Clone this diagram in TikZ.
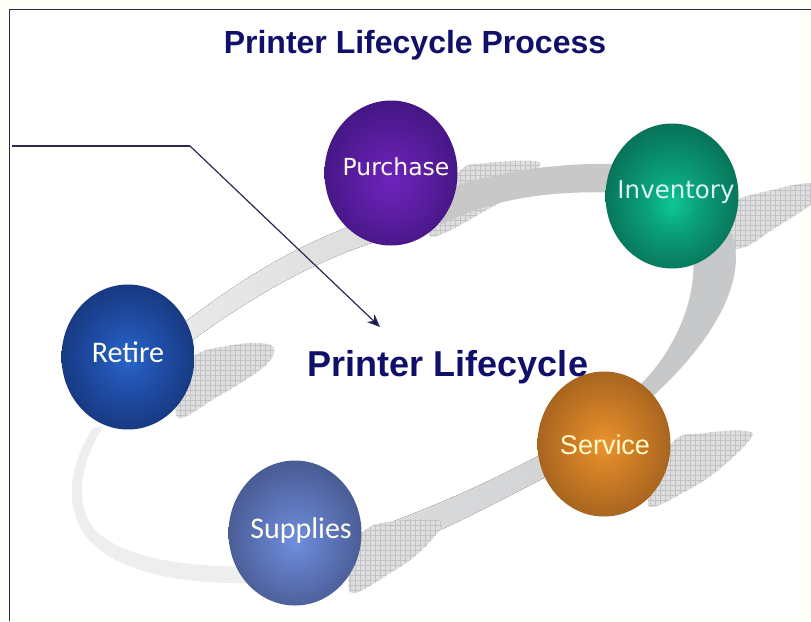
\documentclass[tikz,border=0pt]{standalone}
\usepackage{fontspec}
\setmainfont{Liberation Sans}
\newfontfamily\lato{Carlito}
\newfontfamily\deja{DejaVu Sans}
\usetikzlibrary{arrows.meta,shapes.geometric}
\definecolor{navy}{HTML}{10106A}
\definecolor{framec}{HTML}{2A2A50}
\definecolor{hatchbg}{HTML}{DEDEDE}
\definecolor{hatchln}{HTML}{C2C2C6}
\definecolor{bandA}{HTML}{EEEEEE}
\definecolor{bandB}{HTML}{DDDDDD}
\definecolor{bandC}{HTML}{C8C8C8}
\definecolor{bandD}{HTML}{C6C8CA}
\definecolor{bandE}{HTML}{D2D4D6}
\pgfdeclareradialshading{ballPurple}{\pgfpoint{0bp}{-3bp}}{color(0bp)=(rgb,1:red,0.42;green,0.14;blue,0.74);color(10bp)=(rgb,1:red,0.38;green,0.12;blue,0.66);color(26bp)=(rgb,1:red,0.27;green,0.09;blue,0.52);color(50bp)=(rgb,1:red,0.27;green,0.09;blue,0.52)}
\pgfdeclareradialshading{ballGreen}{\pgfpoint{0bp}{-3bp}}{color(0bp)=(rgb,1:red,0.05;green,0.78;blue,0.58);color(10bp)=(rgb,1:red,0.04;green,0.63;blue,0.47);color(26bp)=(rgb,1:red,0.03;green,0.45;blue,0.35);color(50bp)=(rgb,1:red,0.03;green,0.45;blue,0.35)}
\pgfdeclareradialshading{ballBlue}{\pgfpoint{0bp}{0bp}}{color(0bp)=(rgb,1:red,0.16;green,0.40;blue,0.80);color(10bp)=(rgb,1:red,0.13;green,0.32;blue,0.68);color(26bp)=(rgb,1:red,0.09;green,0.22;blue,0.50);color(50bp)=(rgb,1:red,0.09;green,0.22;blue,0.50)}
\pgfdeclareradialshading{ballSteel}{\pgfpoint{0bp}{-3bp}}{color(0bp)=(rgb,1:red,0.43;green,0.56;blue,0.88);color(10bp)=(rgb,1:red,0.38;green,0.48;blue,0.76);color(26bp)=(rgb,1:red,0.29;green,0.36;blue,0.58);color(50bp)=(rgb,1:red,0.29;green,0.36;blue,0.58)}
\pgfdeclareradialshading{ballOrange}{\pgfpoint{0bp}{0bp}}{color(0bp)=(rgb,1:red,0.92;green,0.58;blue,0.18);color(10bp)=(rgb,1:red,0.82;green,0.50;blue,0.15);color(26bp)=(rgb,1:red,0.65;green,0.39;blue,0.12);color(50bp)=(rgb,1:red,0.65;green,0.39;blue,0.12)}
\tikzset{
  ball/.style={ellipse,minimum width=133pt,minimum height=145pt,inner sep=0pt},
  balltext/.style={text=white!92!yellow,inner sep=0pt},
  heading/.style={text=navy,inner sep=0pt},
  wire/.style={draw=framec,line width=1.2pt},
  frameline/.style={draw=framec,line width=1.6pt},
}
\newcommand{\hatchfill}[1]{%
  \begin{scope}
    \clip plot[smooth cycle,tension=0.6] coordinates {#1};
    \fill[hatchbg] (0,0) rectangle (811,621);
    \foreach \gx in {0,5,...,811} {\draw[hatchln,line width=0.4pt] (\gx,0) -- (\gx,621);}
    \foreach \gy in {0,5,...,621} {\draw[hatchln,line width=0.4pt] (0,\gy) -- (811,\gy);}
  \end{scope}}
\begin{document}
\begin{tikzpicture}[x=1pt,y=-1pt]
\useasboundingbox (0,0) rectangle (811,621);
\fill[white!98!yellow] (0,0) rectangle (811,621);
\fill[white] (10,10) rectangle (800,614);
% shadows under the band
\hatchfill{(430,236)(458,173)(488,163)(532,161)(539,167)(510,195)(492,207)}
\hatchfill{(730,205)(772,190)(811,183)(830,190)(811,205)(772,230)(745,247)(725,245)}
\hatchfill{(190,360)(233,345)(267,344)(274,353)(260,370)(217,397)(177,417)}
\hatchfill{(672,443)(705,433)(745,431)(751,438)(722,467)(688,490)(648,505)}
% band
\fill[bandA] (93,428) .. controls (75,455) and (60,500) .. (85,535) .. controls (115,575) and (190,585) .. (260,583)
  -- (260,567) .. controls (190,567) and (125,560) .. (95,530) .. controls (70,500) and (85,455) .. (103,427) -- cycle;
\fill[left color=bandA!70!bandB,right color=bandB] (185,322) .. controls (240,280) and (295,245) .. (372,218)
  -- (375,242) .. controls (312,262) and (250,298) .. (190,342) -- cycle;
\fill[bandC] (440,190) .. controls (500,172) and (550,162) .. (630,164)
  -- (630,193) .. controls (560,190) and (500,195) .. (440,225) -- cycle;
\fill[bandD] (728,225) .. controls (752,270) and (720,335) .. (652,397)
  -- (640,385) .. controls (675,350) and (697,300) .. (693,255) -- cycle;
\fill[left color=bandB,right color=bandE] (555,447) .. controls (490,482) and (430,510) .. (340,540)
  -- (340,570) .. controls (430,540) and (490,505) .. (560,470) -- cycle;
% shadow lying over the band
\hatchfill{(350,592)(362,533)(405,520)(437,520)(441,527)(422,550)(395,570)}
% frame
\coordinate (fbl) at (9.5,621);
\coordinate (ftl) at (9.5,9.5);
\coordinate (ftr) at (811,9.5);
\draw[frameline] (fbl) -- (ftl) -- (ftr);
% balls
\node[ball,shading=ballPurple] (purchase) at (391,173) {};
\node[ball,shading=ballGreen] (inventory) at (672,196) {};
\node[ball,shading=ballBlue] (retire) at (128,357) {};
\node[ball,shading=ballSteel] (supplies) at (295,533) {};
\node[ball,shading=ballOrange] (service) at (604,444) {};
\node[balltext,font=\deja\fontsize{23.5}{26}\selectfont] (purchaselabel) at (396,167) {Purchase};
\node[balltext,font=\deja\fontsize{24.5}{26}\selectfont,text=white!85!cyan] (inventorylabel) at (676,192) {Inventory};
\node[balltext,font=\lato\fontsize{30}{32}\selectfont] (retirelabel) at (128,352) {Retire};
\node[balltext,font=\lato\fontsize{30}{32}\selectfont] (supplieslabel) at (301,530) {Supplies};
\node[balltext,font=\fontsize{27}{30}\selectfont,text=white!80!yellow] (servicelabel) at (605,445) {Service};
% headings
\node[heading,font=\bfseries\fontsize{32}{34}\selectfont] (title) at (415,45) {Printer Lifecycle Process};
\node[heading,font=\bfseries\fontsize{36}{38}\selectfont] (centre) at (448,367) {Printer Lifecycle};
% connector
\coordinate (wa) at (12,146);
\coordinate (wb) at (190,146);
\coordinate (wc) at (380,327);
\draw[wire] (wa) -- (wb);
\draw[wire,-{Stealth[length=13pt,width=11pt,fill=navy]}] (wb) -- (wc);
\end{tikzpicture}
\end{document}
